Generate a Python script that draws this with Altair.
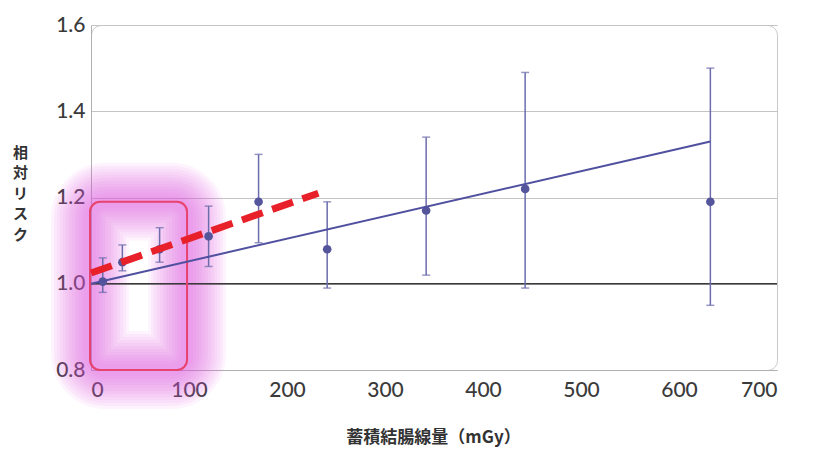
import altair as alt
import pandas as pd

# observed data points (dose in mGy, relative risk, 95% CI)
dose = [12, 32, 70, 120, 171, 241, 342, 443, 632]
rr = [1.005, 1.05, 1.08, 1.11, 1.19, 1.08, 1.17, 1.22, 1.19]
rr_lo = [0.98, 1.03, 1.05, 1.04, 1.095, 0.99, 1.02, 0.99, 0.95]
rr_hi = [1.06, 1.09, 1.13, 1.18, 1.30, 1.19, 1.34, 1.49, 1.50]

# fitted linear model (blue) and low-dose fit (red dashed)
fit_dose = [0, 632]
fit_rr = [1.0, 1.33]
low_dose = [0, 232]
low_rr = [1.025, 1.21]

# highlighted low-dose region
box_x = [-1]
box_x2 = [98]
box_y = [0.80]
box_y2 = [1.19]

baseline = [1.0]
x_ticks = [0, 100, 200, 300, 400, 500, 600, 700]
y_ticks = [0.8, 1.0, 1.2, 1.4, 1.6]

pts = pd.DataFrame({"dose": dose, "rr": rr, "lo": rr_lo, "hi": rr_hi})
fit = pd.DataFrame({"dose": fit_dose, "rr": fit_rr})
low = pd.DataFrame({"dose": low_dose, "rr": low_rr})
box = pd.DataFrame({"x": box_x, "x2": box_x2, "y": box_y, "y2": box_y2})
base = pd.DataFrame({"y": baseline})

xs = alt.Scale(domain=[0, 700], nice=False, zero=False)
ys = alt.Scale(domain=[0.8, 1.6], nice=False, zero=False)

xax = alt.Axis(values=x_ticks, grid=False, ticks=False, domainColor="#b0b0b0",
               labelFontSize=21, labelColor="#3a3a3a", labelFont="Lato",
               labelFontWeight=500, labelPadding=9,
               title="蓄積結腸線量（mGy）", titleFont="Noto Sans CJK JP",
               titleFontSize=17, titleFontWeight="bold", titleColor="#333333",
               titleBaseline="middle", titleY=67, titleX=342, titleAnchor="middle")
yax = alt.Axis(values=y_ticks, format=".1f", grid=True, gridColor="#c4c4c4",
               ticks=False, domainColor="#b0b0b0",
               labelFontSize=21, labelColor="#3a3a3a", labelFont="Lato",
               labelFontWeight=500, labelPadding=6,
               title=["相", "対", "リ", "ス", "ク"], titleAngle=0,
               titleFont="Noto Sans CJK JP", titleFontSize=15,
               titleFontWeight="bold", titleColor="#333333",
               titleLineHeight=20.5, titleX=-71, titleY=120,
               titleAlign="center", titleBaseline="top")

glow_layers = []
for w in [78, 72, 66, 60, 54, 48, 42, 36, 30, 24, 18, 12]:
    glow_layers.append(
        alt.Chart(box).mark_rect(filled=False, stroke="#e05ae6", strokeWidth=w,
                                 opacity=0.065, cornerRadius=16)
        .encode(x=alt.X("x:Q", scale=xs, axis=xax), x2="x2:Q",
                y=alt.Y("y:Q", scale=ys, axis=yax), y2="y2:Q")
    )

base_rule = alt.Chart(base).mark_rule(color="#3a3a3a", strokeWidth=1.6).encode(
    y=alt.Y("y:Q", scale=ys, axis=yax))

box_border = alt.Chart(box).mark_rect(filled=False, stroke="#e8426e", strokeWidth=2,
                                      cornerRadius=10).encode(
    x=alt.X("x:Q", scale=xs, axis=xax), x2="x2:Q",
    y=alt.Y("y:Q", scale=ys, axis=yax), y2="y2:Q")

bars = alt.Chart(pts).mark_rule(color="#6c6cad", strokeWidth=1.5).encode(
    x=alt.X("dose:Q", scale=xs, axis=xax),
    y=alt.Y("lo:Q", scale=ys, axis=yax), y2="hi:Q")

cap_lo = alt.Chart(pts).mark_tick(color="#6c6cad", size=8, thickness=1.5,
                                  orient="horizontal").encode(
    x=alt.X("dose:Q", scale=xs, axis=xax), y=alt.Y("lo:Q", scale=ys, axis=yax))
cap_hi = alt.Chart(pts).mark_tick(color="#6c6cad", size=8, thickness=1.5,
                                  orient="horizontal").encode(
    x=alt.X("dose:Q", scale=xs, axis=xax), y=alt.Y("hi:Q", scale=ys, axis=yax))

points = alt.Chart(pts).mark_circle(color="#55559c", size=75, opacity=1).encode(
    x=alt.X("dose:Q", scale=xs, axis=xax), y=alt.Y("rr:Q", scale=ys, axis=yax))

fit_line = alt.Chart(fit).mark_line(color="#5050a0", strokeWidth=2).encode(
    x=alt.X("dose:Q", scale=xs, axis=xax), y=alt.Y("rr:Q", scale=ys, axis=yax))

low_line = alt.Chart(low).mark_line(color="#e8202a", strokeWidth=7,
                                    strokeDash=[22, 10]).encode(
    x=alt.X("dose:Q", scale=xs, axis=xax), y=alt.Y("rr:Q", scale=ys, axis=yax))

chart = alt.layer(*glow_layers, base_rule, box_border, bars, cap_lo, cap_hi,
                  points, fit_line, low_line).properties(
    width=686, height=345,
    autosize=alt.AutoSizeParams(type="none"),
    padding={"left": 83, "top": 17, "right": 28, "bottom": 77},
    background="white",
).configure_view(stroke="#c8c8c8", cornerRadius=10)

chart.save("out.html", embed_options={"renderer": "svg", "actions": False})
